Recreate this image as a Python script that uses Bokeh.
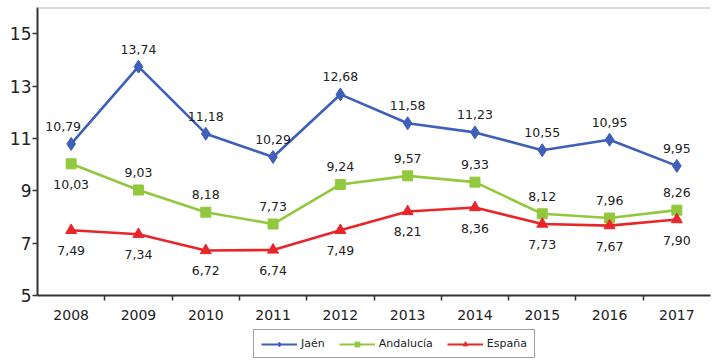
from bokeh.plotting import figure
from bokeh.layouts import column
from bokeh.models import (ColumnDataSource, Range1d, FixedTicker, Legend, LegendItem, Span, LabelSet)
from bokeh.core.properties import value
from bokeh.embed import file_html
from bokeh.resources import INLINE

# ---- data ----
years = ["2008", "2009", "2010", "2011", "2012", "2013", "2014", "2015", "2016", "2017"]
jaen = [10.79, 13.74, 11.18, 10.29, 12.68, 11.58, 11.23, 10.55, 10.95, 9.95]
andalucia = [10.03, 9.03, 8.18, 7.73, 9.24, 9.57, 9.33, 8.12, 7.96, 8.26]
espana = [7.49, 7.34, 6.72, 6.74, 7.49, 8.21, 8.36, 7.73, 7.67, 7.90]
y_ticks = [5, 7, 9, 11, 13, 15]
y_min, y_max = 5, 16

# label placement (style): "a" above, "b" below; horizontal nudges in px
place_jaen = ["a"] * 10
place_anda = ["b"] + ["a"] * 9
place_esp = ["b"] * 10
nudge_jaen = [-8, 0, 0, 0, 0, 0, 0, 0, 0, 0]
nudge_anda = [0] * 10
nudge_esp = [0] * 10

FONT = "DejaVu Sans"
BLUE = "#3F5FB8"
GREEN = "#92C83E"
RED = "#E8262A"
AXIS = "#333333"
TXT = "#222222"

idx = list(range(len(years)))

p = figure(width=714, height=328, output_backend="svg", toolbar_location=None,
           x_range=Range1d(-0.5, len(years) - 0.5), y_range=Range1d(y_min, y_max),
           min_border_left=37, min_border_right=4, min_border_top=7, min_border_bottom=33)
p.outline_line_color = None
p.xgrid.visible = False
p.ygrid.visible = False

p.add_layout(Span(location=y_max, dimension="width", line_color="#b8b8b8", line_width=2))

def fmt(v):
    return f"{v:.2f}".replace(".", ",")

series = [
    ("Jaén", jaen, BLUE, "diamond", 13, place_jaen, nudge_jaen),
    ("Andalucía", andalucia, GREEN, "square", 10, place_anda, nudge_anda),
    ("España", espana, RED, "triangle", 11, place_esp, nudge_esp),
]

# legend-only figure: same data, drawn outside its visible range
p2 = figure(width=714, height=32, output_backend="svg", toolbar_location=None,
            x_range=Range1d(-0.5, len(years) - 0.5), y_range=Range1d(-2, -1),
            min_border_left=0, min_border_right=0, min_border_top=0, min_border_bottom=0)
p2.axis.visible = False
p2.xgrid.visible = False
p2.ygrid.visible = False
p2.outline_line_color = None

items = []
for name, vals, col, mk, sz, place, nudge in series:
    src = ColumnDataSource(dict(x=idx, y=vals))
    p.line("x", "y", source=src, line_color=col, line_width=2.6)
    p.scatter("x", "y", source=src, marker=mk, size=sz, fill_color=col, line_color=col)
    l2 = p2.line("x", "y", source=src, line_color=col, line_width=2)
    s2 = p2.scatter("x", "y", source=src, marker=mk, size=sz, fill_color=col, line_color=col)
    items.append(LegendItem(label=name, renderers=[l2, s2]))
    above = [i for i, s in enumerate(place) if s == "a"]
    below = [i for i, s in enumerate(place) if s == "b"]
    for sel, base, off in ((above, "bottom", 13), (below, "top", -16)):
        if not sel:
            continue
        ls = ColumnDataSource(dict(x=[idx[i] for i in sel], y=[vals[i] for i in sel],
                                   lab=[fmt(vals[i]) for i in sel],
                                   dx=[nudge[i] for i in sel]))
        p.add_layout(LabelSet(x="x", y="y", text="lab", source=ls, text_align="center",
                              text_baseline=base, y_offset=off, x_offset="dx",
                              text_font=value(FONT),
                              text_font_size="12.5px", text_color=TXT))

# x axis
p.xaxis.ticker = FixedTicker(ticks=idx, minor_ticks=[i + 0.5 for i in idx[:-1]])
p.xaxis.major_label_overrides = {i: y for i, y in zip(idx, years)}
p.xaxis.major_tick_line_color = None
p.xaxis.major_tick_out = 5
p.xaxis.major_tick_in = 0
p.xaxis.minor_tick_line_color = AXIS
p.xaxis.minor_tick_out = 5
p.xaxis.minor_tick_in = 0
p.xaxis.minor_tick_line_width = 1.5
p.xaxis.axis_line_color = AXIS
p.xaxis.axis_line_width = 2
p.xaxis.major_label_standoff = 9
p.xaxis.major_label_text_font = FONT
p.xaxis.major_label_text_font_size = "14px"
p.xaxis.major_label_text_color = TXT

# y axis
p.yaxis.ticker = FixedTicker(ticks=y_ticks, minor_ticks=[])
p.yaxis.major_tick_out = 5
p.yaxis.major_tick_in = 0
p.yaxis.major_tick_line_color = AXIS
p.yaxis.major_tick_line_width = 1.5
p.yaxis.minor_tick_line_color = None
p.yaxis.axis_line_color = AXIS
p.yaxis.axis_line_width = 2
p.yaxis.major_label_standoff = 1
p.yaxis.major_label_text_font = FONT
p.yaxis.major_label_text_font_size = "17px"
p.yaxis.major_label_text_color = TXT

legend = Legend(items=items, orientation="horizontal", location=(216, 2),
                label_text_font=FONT, label_text_font_size="11px", label_text_color=TXT,
                glyph_width=36, glyph_height=12, spacing=14, padding=7, margin=0,
                border_line_color="#444444", border_line_width=1.5,
                label_standoff=4, label_height=12)
p2.add_layout(legend, "center")

layout = column(p, p2, spacing=0)
open("out.html", "w").write(file_html(layout, INLINE))
